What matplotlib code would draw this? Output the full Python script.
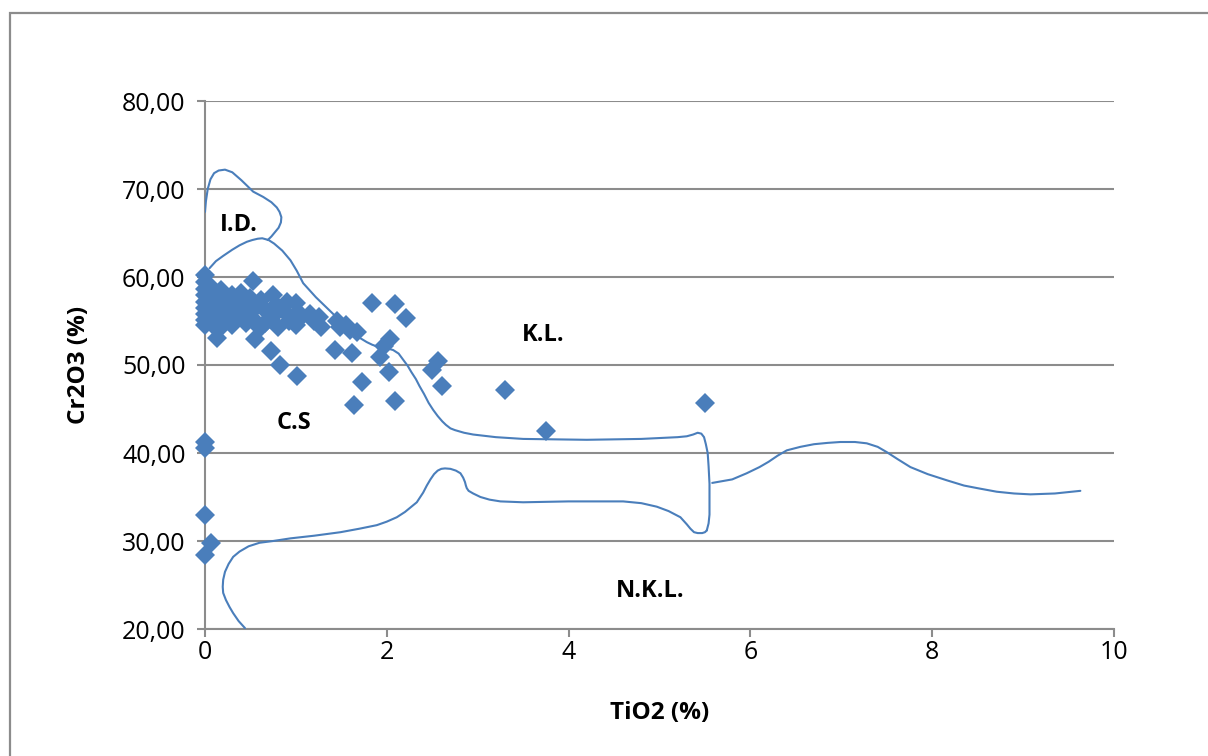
import matplotlib
matplotlib.use("Agg")
import matplotlib.pyplot as plt
from matplotlib.patches import Rectangle
from matplotlib.ticker import FuncFormatter

# spinel analyses: TiO2 (%) vs Cr2O3 (%)
tio2 = [0, 0, 0, 0, 0, 0, 0, 0, 0,
        0.05, 0.04, 0.06, 0.05,
        0.10, 0.12, 0.10, 0.13, 0.09,
        0.18, 0.20, 0.22, 0.20, 0.17,
        0.30, 0.28, 0.33, 0.30,
        0.40, 0.42, 0.38, 0.45, 0.40,
        0.53, 0.50, 0.55, 0.52, 0.55, 0.60,
        0.62, 0.68, 0.66,
        0.75, 0.78, 0.74, 0.73, 0.80,
        0.90, 0.88, 0.92, 0.82,
        1.00, 1.02, 1.00, 1.05, 1.01,
        1.20, 1.25, 1.28, 1.15,
        1.45, 1.48, 1.43, 1.55, 1.60, 1.67, 1.62,
        1.84, 2.09, 2.21, 2.04, 1.97, 1.93, 2.02, 1.73, 1.64, 2.09,
        2.56, 2.50, 2.61, 3.30, 3.75, 5.50,
        0, 0, 0, 0.07, 0]
cr2o3 = [60.2, 59.4, 58.6, 57.9, 57.2, 56.5, 55.8, 55.1, 54.6,
         59.0, 57.5, 56.0, 55.2,
         58.3, 57.0, 55.6, 53.1, 54.5,
         58.5, 57.3, 56.2, 55.0, 54.2,
         57.9, 56.8, 55.6, 54.5,
         58.2, 57.0, 56.0, 54.8, 55.5,
         59.5, 57.6, 56.5, 55.3, 53.0, 54.2,
         57.4, 56.0, 54.8,
         57.9, 56.8, 55.5, 51.6, 54.3,
         57.2, 56.0, 55.0, 50.0,
         57.0, 56.0, 54.6, 55.3, 48.7,
         55.0, 55.5, 54.3, 55.8,
         55.0, 54.3, 51.7, 54.6, 54.0, 53.8, 51.4,
         57.0, 56.9, 55.3, 53.0, 52.2, 50.9, 49.2, 48.1, 45.4, 45.9,
         50.4, 49.4, 47.6, 47.2, 42.5, 45.7,
         41.2, 40.6, 32.9, 29.8, 28.4]

# field boundaries
id_x = [0.0, 0.01, 0.03, 0.06, 0.1, 0.15, 0.22, 0.3, 0.4, 0.53, 0.64, 0.73, 0.79, 0.82,
        0.84, 0.835, 0.81, 0.77, 0.73, 0.69]
id_y = [67.4, 68.6, 70.0, 71.1, 71.8, 72.1, 72.2, 71.9, 71.0, 69.7, 69.1, 68.5, 67.9, 67.4,
        66.8, 66.2, 65.6, 65.1, 64.6, 64.2]

cs_x = [0.05, 0.12, 0.2, 0.3, 0.38, 0.46, 0.52, 0.58, 0.63, 0.7, 0.76, 0.85, 0.94, 1.01,
        1.08, 1.22, 1.37, 1.52, 1.62, 1.7, 1.78, 1.84, 1.92, 2.0, 2.07, 2.13, 2.18, 2.23,
        2.27, 2.32, 2.36, 2.41, 2.46, 2.51, 2.56, 2.61, 2.65, 2.7, 2.75, 2.85, 2.95, 3.2,
        3.5, 4.2, 4.8, 5.2, 5.3, 5.37, 5.42, 5.46, 5.49, 5.51, 5.53, 5.54, 5.55, 5.55,
        5.55, 5.54, 5.52]
cs_y = [61.0, 61.8, 62.4, 63.1, 63.6, 64.0, 64.2, 64.35, 64.4, 64.2, 63.8, 63.0, 61.9, 60.7,
        59.3, 57.7, 56.2, 54.7, 53.8, 53.1, 52.6, 52.3, 52.0, 51.9, 51.7, 51.3, 50.6, 49.9,
        49.2, 48.4, 47.6, 46.7, 45.7, 44.9, 44.2, 43.6, 43.2, 42.8, 42.6, 42.3, 42.1, 41.8,
        41.6, 41.5, 41.6, 41.8, 41.9, 42.1, 42.3, 42.2, 41.8, 41.0, 40.0, 38.5, 36.5, 34.5,
        33.0, 32.0, 31.2]

nkl_x = [5.52, 5.5, 5.47, 5.42, 5.38, 5.34, 5.3, 5.23, 5.1, 4.97, 4.8, 4.6, 4.0, 3.5,
         3.25, 3.13, 3.03, 2.95, 2.9, 2.88, 2.87, 2.86, 2.84, 2.81, 2.76, 2.7, 2.64, 2.6,
         2.56, 2.52, 2.48, 2.44, 2.4, 2.33, 2.2, 2.11, 2.0, 1.89, 1.7, 1.49, 1.2, 0.94,
         0.75, 0.6, 0.48, 0.38, 0.31, 0.26, 0.22, 0.2, 0.195, 0.2, 0.23, 0.27, 0.31,
         0.37, 0.44]
nkl_y = [31.2, 31.0, 30.9, 30.9, 31.0, 31.4, 31.9, 32.7, 33.4, 33.9, 34.3, 34.5, 34.5,
         34.4, 34.5, 34.7, 35.0, 35.4, 35.7, 36.0, 36.3, 36.7, 37.2, 37.7, 38.0, 38.2,
         38.25, 38.2, 38.0, 37.6, 37.0, 36.3, 35.5, 34.4, 33.3, 32.7, 32.2, 31.8, 31.4,
         31.0, 30.6, 30.3, 30.0, 29.8, 29.4, 28.8, 28.2, 27.4, 26.5, 25.6, 24.8, 24.1,
         23.3, 22.5, 21.8, 20.9, 20.1]

kl_x = [5.58, 5.8, 5.96, 6.1, 6.2, 6.3, 6.4, 6.55, 6.7, 6.85, 6.99, 7.15, 7.28, 7.4, 7.5,
        7.62, 7.76, 7.95, 8.16, 8.35, 8.5, 8.71, 8.9, 9.08, 9.35, 9.63]
kl_y = [36.6, 37.0, 37.7, 38.4, 39.0, 39.7, 40.3, 40.7, 41.0, 41.15, 41.25, 41.25, 41.1,
        40.7, 40.1, 39.3, 38.4, 37.6, 36.9, 36.3, 36.0, 35.6, 35.4, 35.3, 35.4, 35.7]

# field names and their positions
field_names = ["I.D.", "K.L.", "C.S", "N.K.L."]
field_x = [0.37, 3.72, 0.98, 4.9]
field_y = [65.9, 53.4, 43.4, 24.3]

blue = "#4a7ebb"
grey = "#8c8c8c"
plt.rcParams['font.family'] = ['Open Sans', 'DejaVu Sans']

fig = plt.figure(figsize=(12.08, 7.56), dpi=100)
ax = fig.add_axes([205 / 1208, 127 / 756, 909 / 1208, 528 / 756])

ax.plot(tio2, cr2o3, linestyle='none', marker='D', markersize=10.3, clip_on=False,
        markerfacecolor=blue, markeredgecolor=blue, markeredgewidth=0, zorder=3)
for lx, ly in [(id_x, id_y), (cs_x, cs_y), (nkl_x, nkl_y), (kl_x, kl_y)]:
    ax.plot(lx, ly, color=blue, lw=1.5, solid_joinstyle='round', solid_capstyle='round',
            zorder=4)

for name, tx, ty in zip(field_names, field_x, field_y):
    ax.text(tx, ty, name, fontsize=17, fontweight='bold', ha='center', va='center', zorder=5)

ax.set_xlim(0, 10)
ax.set_ylim(20, 80)
ax.set_xticks(range(0, 11, 2))
ax.set_yticks(range(20, 81, 10))
ax.yaxis.set_major_formatter(FuncFormatter(lambda v, p: f"{v:.2f}".replace('.', ',')))
ax.yaxis.grid(True, color=grey, lw=1.5)
ax.set_axisbelow(True)
for side in ['top', 'right']:
    ax.spines[side].set_visible(False)
for side in ['left', 'bottom']:
    ax.spines[side].set_color(grey)
    ax.spines[side].set_linewidth(1.5)
ax.tick_params(axis='both', direction='out', length=6, width=1.5, color=grey, labelsize=18)
ax.tick_params(axis='x', pad=2)
ax.tick_params(axis='y', pad=8)
ax.set_xlabel("TiO2 (%)", fontsize=17.5, fontweight='bold', labelpad=26)
ax.set_ylabel("Cr2O3 (%)", fontsize=17.5, fontweight='bold', labelpad=22)

# chart area frame
fig.add_artist(Rectangle((10 / 1208, -0.1), 1.2, 0.1 + 1 - 13 / 756, fill=False,
                         edgecolor=grey, lw=1.6, transform=fig.transFigure))

fig.savefig("out.png", dpi=100)
